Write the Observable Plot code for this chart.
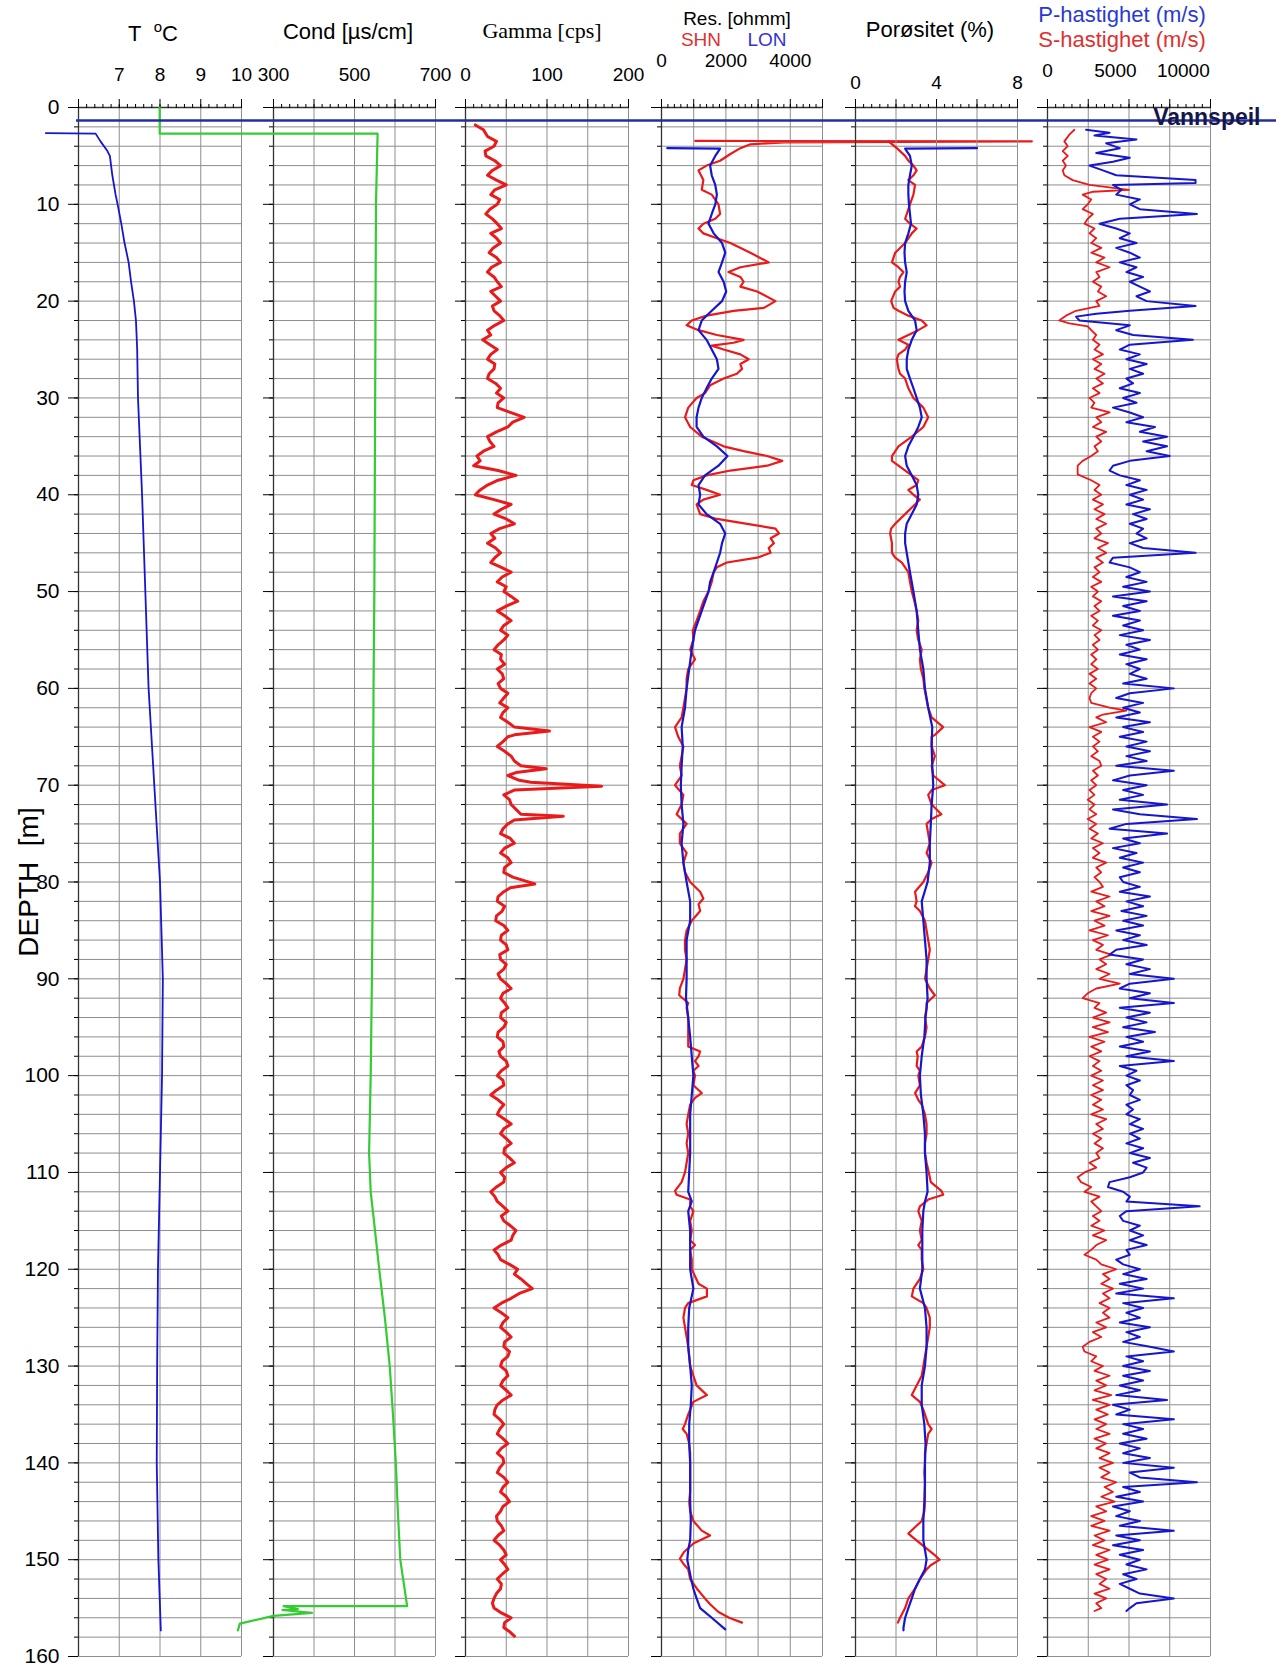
<!DOCTYPE html>
<html><head><meta charset="utf-8">
<script src="https://cdn.jsdelivr.net/npm/d3@7"></script>
<script src="https://cdn.jsdelivr.net/npm/@observablehq/plot@0.6"></script>
<style>
body{margin:0;background:#fff;}
#wrap{position:relative;width:1276px;height:1670px;overflow:hidden;font-family:"Liberation Sans",Arial,sans-serif;background:#fff;}
.t{position:absolute;white-space:nowrap;line-height:1;}
</style></head><body><div id="wrap"></div>
<script>
// ---------- tick labels / axes ----------
const depthTicks = [0,10,20,30,40,50,60,70,80,90,100,110,120,130,140,150,160];
const tempLabels = [7,8,9,10];
const condLabels = [300,500,700];
const gammaLabels = [0,100,200];
const resLabels = [0,2000,4000];
const porLabels = [0,4,8];
const velLabels = [0,5000,10000];
const waterLevel = 1.35;

// ---------- data: [depth m, value] ----------
const temperature = [[2.65,5.2],[2.7,6.42],[3.5,6.54],[4.5,6.71],[5,6.77],[7,6.83],[9,6.91],[10,6.96],[12,7.05],[14,7.13],[16,7.23],[18,7.29],[20,7.36],[22,7.41],[25,7.44],[30,7.46],[35,7.51],[40,7.56],[50,7.64],[60,7.72],[70,7.86],[80,8.0],[90,8.07],[100,8.05],[110,8.0],[120,7.95],[130,7.93],[140,7.92],[150,7.96],[157.3,8.02]];
const conductivity = [[0,19],[2.7,19],[2.7,557],[10,553],[20,552],[30,551],[40,550],[50,549],[60,547],[70,546],[80,545],[90,543],[100,540],[108,536],[112,540],[115,548],[120,561],[125,575],[130,587],[135,595],[140,602],[145,607],[150,613],[154.8,630],[154.8,325],[155.1,360],[155.2,322],[155.5,395],[155.8,300],[156.6,217],[157.3,212]];
const gamma = [[1.8,12],[2.3,22],[3,27],[3.5,38],[4,35],[4.5,24],[5,25],[5.5,36],[6,43],[6.5,33],[7,27],[7.5,38],[8,50],[8.5,36],[9,31],[9.5,42],[10,39],[10.5,30],[11,25],[11.5,33],[12,39],[12.5,44],[13,31],[13.5,38],[14,43],[14.5,34],[15,29],[15.5,38],[16,43],[16.5,32],[17,27],[17.5,35],[18,39],[18.5,44],[19,31],[19.5,37],[20,43],[20.5,33],[21,35],[21.5,42],[22,47],[22.5,36],[23,27],[23.5,31],[24,21],[24.5,30],[25,39],[25.5,31],[26,27],[26.5,36],[27,35],[27.5,29],[28,27],[28.5,37],[29,43],[29.5,38],[30,47],[30.5,40],[31,39],[31.5,55],[32,72],[32.5,58],[33,52],[33.5,38],[34,27],[34.5,30],[35,35],[35.5,22],[36,14],[36.5,18],[37,10],[37.5,40],[38,62],[38.5,40],[39,27],[39.5,18],[40,12],[40.5,35],[41,56],[41.5,44],[42,35],[42.5,50],[43,60],[43.5,42],[44,31],[44.5,36],[45,27],[45.5,37],[46,43],[46.5,36],[47,31],[47.5,44],[48,56],[48.5,45],[49,39],[49.5,50],[50,47],[50.5,56],[51,64],[51.5,50],[52,39],[52.5,48],[53,56],[53.5,47],[54,43],[54.5,52],[55,47],[55.5,40],[56,35],[56.5,44],[57,43],[57.5,48],[58,39],[58.5,45],[59,47],[59.5,40],[60,43],[60.5,52],[61,47],[61.5,42],[62,52],[62.5,46],[63,43],[63.5,52],[64,60],[64.4,103],[64.8,60],[65,52],[65.5,46],[66,39],[66.5,48],[67,56],[67.5,60],[68,68],[68.3,99],[68.7,62],[69,52],[69.5,66],[69.7,80],[70.1,167],[70.5,60],[71,47],[71.5,54],[72,56],[72.5,62],[73,68],[73.2,120],[73.6,60],[74,52],[74.5,46],[75,43],[75.5,55],[76,60],[76.5,48],[77,43],[77.5,52],[78,56],[78.5,48],[79,47],[79.5,58],[79.8,70],[80.2,85],[80.6,55],[81,47],[81.5,40],[82,39],[82.5,48],[83,45],[83.5,38],[84,37],[84.5,47],[85,52],[85.5,44],[86,43],[86.5,50],[87,52],[87.5,42],[88,43],[88.5,50],[89,47],[89.5,40],[90,43],[90.5,50],[91,56],[91.5,46],[92,43],[92.5,48],[93,52],[93.5,44],[94,43],[94.5,50],[95,47],[95.5,40],[96,39],[96.5,46],[97,47],[97.5,41],[98,43],[98.5,50],[99,52],[99.5,44],[100,39],[100.5,46],[101,47],[101.5,38],[102,31],[102.5,40],[103,47],[103.5,42],[104,39],[104.5,48],[105,56],[105.5,47],[106,43],[106.5,50],[107,56],[107.5,48],[108,47],[108.5,54],[109,60],[109.5,50],[110,43],[110.5,48],[111,47],[111.5,38],[112,31],[112.5,36],[113,39],[113.5,46],[114,52],[114.5,44],[115,47],[115.5,55],[116,62],[116.5,58],[117,56],[117.5,44],[118,35],[118.5,40],[119,43],[119.5,54],[120,64],[120.5,60],[121,68],[121.5,75],[122,82],[122.5,66],[123,56],[123.5,44],[124,35],[124.5,44],[125,52],[125.5,46],[126,43],[126.5,50],[127,56],[127.5,48],[128,47],[128.5,54],[129,52],[129.5,45],[130,43],[130.5,50],[131,52],[131.5,46],[132,43],[132.5,50],[133,56],[133.5,46],[134,39],[134.5,36],[135,35],[135.5,42],[136,47],[136.5,42],[137,39],[137.5,46],[138,52],[138.5,44],[139,39],[139.5,46],[140,47],[140.5,42],[141,39],[141.5,47],[142,52],[142.5,46],[143,43],[143.5,50],[144,54],[144.5,46],[145,43],[145.5,38],[146,39],[146.5,44],[147,47],[147.5,40],[148,35],[148.5,42],[149,47],[149.5,50],[150,43],[150.5,48],[151,52],[151.5,45],[152,39],[152.5,44],[153,43],[153.5,38],[154,35],[154.5,33],[155,35],[155.5,44],[156,56],[156.5,48],[157,47],[157.5,55],[157.9,60]];
const resSHN = [[3.45,1050],[3.5,11500],[3.6,3800],[3.8,2760],[4.2,2450],[4.8,2140],[5.5,1820],[6,1400],[6.5,1150],[7.5,1300],[8.5,1250],[9,1560],[10,1770],[11,1820],[11.5,1670],[12,1300],[12.5,1150],[13,1300],[13.5,1720],[14,2140],[15,2760],[16,3330],[16.5,2450],[17,2080],[17.5,2450],[18,2550],[18.5,2450],[19,2970],[20,3540],[20.7,3180],[21,2240],[21.5,1400],[22,940],[22.5,780],[23,1150],[23.5,1720],[24,2550],[24.3,2240],[24.6,1560],[25,1930],[25.5,2450],[26,2710],[26.5,2450],[27,2500],[27.5,2340],[28,1930],[28.7,1510],[29.5,1350],[30,1090],[31,830],[32,730],[33,890],[34,1250],[35,1930],[35.5,2550],[36,3280],[36.5,3750],[37,3280],[37.5,2140],[38,1400],[38.5,990],[39,940],[39.5,1400],[40,1820],[40.5,1300],[41,1090],[42,1200],[42.5,1720],[43,2660],[43.5,3540],[44,3650],[44.5,3390],[45,3490],[45.5,3330],[46,3390],[46.5,2970],[47,2030],[47.5,1720],[48,1620],[49,1560],[50,1460],[51,1300],[52,1200],[53,1090],[54,970],[55,990],[56,890],[57,1040],[58,830],[59,780],[60,780],[62,680],[63,625],[64,420],[65,520],[66,680],[67,625],[68,570],[69,625],[70,420],[71,680],[72,625],[73,470],[74,780],[75,570],[76,570],[77,780],[78,680],[79,730],[80,890],[81,1200],[81.7,1300],[82.3,1150],[83,1200],[84,940],[85,780],[86,730],[87,730],[88,780],[89,730],[90,680],[91,570],[91.7,550],[92.5,830],[93,780],[94,830],[95,830],[96,830],[97,830],[97.5,1200],[98,1150],[98.5,1040],[99,1150],[99.5,990],[100,1040],[101,990],[101.8,1250],[102.3,1040],[103,890],[104,830],[105,780],[106,830],[107,780],[108,830],[109,780],[110,730],[111,625],[111.9,420],[112.3,470],[112.8,890],[113.5,890],[114,990],[115,890],[116,940],[117,890],[117.5,1040],[118,890],[119,940],[120,940],[121.5,1150],[122,1410],[122.8,1410],[123.5,830],[124,730],[125,680],[126,730],[127,780],[128,830],[129,860],[130,890],[131,990],[132,1090],[133,1410],[133.7,990],[134.5,890],[135,830],[136,730],[136.5,660],[137,780],[138,860],[139,890],[140,890],[141,890],[142,890],[143,890],[144,860],[145,890],[146,990],[147,1250],[147.5,1510],[148.3,1000],[149.2,700],[149.9,570],[150.5,700],[151,830],[152,890],[153,1100],[154,1350],[154.6,1510],[155.4,1770],[156,2100],[156.5,2500]];
const resLON = [[4.2,180],[4.25,1820],[4.5,1770],[5,1670],[6,1510],[7,1560],[8,1670],[9,1720],[10,1670],[11,1560],[12,1460],[13,1620],[14,1880],[15,1980],[16,1880],[17,1770],[18,1930],[19,2010],[20,1880],[21,1560],[22,1250],[23,1150],[24,1400],[25,1560],[26,1720],[27,1770],[28,1560],[29,1400],[30,1250],[31,1150],[32,1090],[33,1090],[34,1300],[35,1720],[36,2050],[37,1770],[38,1350],[39,1150],[40,1200],[41,1150],[42,1400],[43,1820],[44,1980],[45,1880],[46,1820],[47,1720],[48,1620],[49,1510],[50,1460],[52,1250],[54,1040],[56,940],[58,860],[60,780],[62,730],[64,625],[66,660],[68,625],[70,600],[72,625],[74,680],[76,625],[78,680],[80,780],[82,890],[84,890],[86,780],[88,780],[90,780],[92,760],[94,830],[96,890],[98,940],[100,990],[102,940],[104,890],[106,890],[108,890],[110,860],[112,830],[113,940],[114,830],[116,890],[118,890],[120,890],[122,990],[124,860],[126,830],[128,830],[130,890],[132,940],[134,910],[136,860],[138,860],[140,890],[142,890],[144,890],[146,910],[148,890],[149,830],[150,800],[151,860],[152,920],[153,990],[154,1090],[155,1200],[156,1560],[157.2,1980]];
const porRed = [[3.5,1.63],[4.2,2.04],[5,2.45],[5.5,2.61],[6,2.86],[6.5,3.02],[7,2.86],[7.5,2.61],[8,2.94],[9,2.86],[10,2.69],[11,2.53],[11.5,2.45],[12,2.69],[12.5,3.02],[13,2.78],[14,2.45],[15,1.96],[16,1.8],[16.5,2.12],[17,2.37],[17.5,2.2],[18,2.12],[18.5,2.2],[19,1.96],[20,1.76],[20.7,1.88],[21,2.12],[21.5,2.61],[22,3.27],[22.5,3.51],[23,3.1],[23.5,2.61],[24,2.12],[24.5,2.61],[25,2.45],[25.5,2.12],[26,2.04],[27,2.12],[27.5,2.2],[28,2.45],[29,2.61],[30,2.86],[31,3.35],[32,3.59],[33,3.35],[34,2.78],[35,2.12],[36,1.8],[36.5,1.8],[37,2.12],[38,2.78],[38.5,3.1],[39,3.02],[39.5,2.61],[40,2.86],[40.5,3.18],[41,2.94],[42,2.45],[43,1.96],[43.5,1.76],[44,1.71],[45,1.8],[46,1.8],[46.5,1.96],[47,2.29],[48,2.61],[49,2.69],[50,2.78],[51,2.91],[52,3.02],[53,3.1],[54,3.02],[55,3.1],[56,3.27],[57,3.18],[58,3.23],[59,3.35],[60,3.4],[62,3.59],[63,3.76],[64,4.33],[64.8,3.92],[65,3.76],[66,3.76],[67,3.92],[68,3.76],[69,3.84],[70,4.41],[70.5,3.76],[71,3.59],[72,3.76],[73,4.24],[73.5,3.76],[74,3.51],[75,3.59],[76,3.67],[77,3.51],[78,3.76],[79,3.59],[80,3.35],[81,2.94],[82,3.02],[82.5,2.94],[83,3.18],[84,3.43],[85,3.51],[86,3.59],[87,3.67],[88,3.59],[89,3.51],[90,3.43],[91,3.67],[91.7,3.92],[92.5,3.51],[93,3.51],[94,3.43],[95,3.51],[96,3.43],[97,3.27],[97.5,3.02],[98,3.07],[99,3.02],[99.5,3.18],[100,3.1],[101,3.18],[101.8,2.94],[102.5,3.1],[103,3.27],[104,3.43],[105,3.51],[106,3.51],[107,3.43],[108,3.43],[109,3.51],[110,3.62],[111,3.72],[111.9,4.24],[112.3,4.33],[112.8,3.59],[113.5,3.18],[114,3.1],[115,3.27],[116,3.18],[117,3.27],[117.5,3.1],[118,3.27],[119,3.27],[120,3.35],[121,3.18],[122,2.86],[122.8,2.78],[123.5,3.35],[124,3.51],[125,3.67],[126,3.67],[127,3.59],[128,3.51],[129,3.43],[130,3.35],[131,3.27],[132,3.02],[133,2.78],[133.7,3.18],[134.5,3.35],[135,3.43],[136,3.59],[136.5,3.76],[137,3.59],[138,3.51],[139,3.43],[140,3.43],[141,3.4],[142,3.43],[143,3.43],[144,3.43],[145,3.4],[146,3.27],[147.3,2.61],[148.5,3.3],[149.5,3.9],[150,4.16],[150.6,3.7],[151,3.51],[152,3.18],[153,2.94],[154,2.61],[155,2.45],[156,2.2],[156.5,2.09]];
const porBlue = [[4.2,6.0],[4.25,2.45],[4.5,2.53],[5,2.69],[6,2.78],[7,2.69],[8,2.61],[9,2.61],[10,2.64],[11,2.69],[12,2.74],[13,2.61],[14,2.45],[15,2.42],[16,2.45],[17,2.53],[18,2.45],[19,2.42],[20,2.45],[21,2.61],[22,2.94],[23,3.02],[24,2.78],[25,2.61],[26,2.53],[27,2.53],[28,2.69],[29,2.86],[30,3.02],[31,3.18],[32,3.27],[33,3.1],[34,2.86],[35,2.61],[36,2.45],[37,2.53],[38,2.78],[39,3.02],[40,3.1],[41,3.02],[42,2.78],[43,2.53],[44,2.45],[45,2.45],[46,2.53],[47,2.61],[48,2.69],[50,2.86],[52,3.02],[54,3.1],[56,3.18],[58,3.35],[60,3.43],[62,3.59],[64,3.79],[66,3.76],[68,3.79],[70,3.84],[72,3.76],[74,3.72],[76,3.67],[78,3.67],[80,3.56],[82,3.27],[84,3.35],[86,3.43],[88,3.51],[90,3.51],[92,3.56],[94,3.46],[96,3.4],[98,3.27],[100,3.18],[102,3.23],[104,3.35],[106,3.43],[108,3.43],[110,3.51],[112,3.56],[113,3.43],[114,3.35],[116,3.3],[118,3.3],[120,3.3],[122,3.18],[124,3.43],[126,3.51],[128,3.51],[130,3.43],[132,3.27],[134,3.27],[136,3.4],[138,3.46],[140,3.43],[142,3.43],[144,3.4],[146,3.35],[148,3.35],[149,3.43],[150,3.51],[151,3.43],[152,3.18],[153,2.94],[154,2.78],[155,2.61],[156,2.45],[157,2.37],[157.3,2.37]];
const velS = [[2.3,1980],[2.8,1610],[3.5,1240],[4,1490],[4.5,1120],[5,1490],[5.5,1120],[6,1360],[6.5,1120],[7,1240],[7.5,1850],[8,3090],[8.5,6000],[8.7,3360],[9,2590],[9.5,3220],[10,2960],[10.5,2590],[11,3340],[11.5,2960],[12,2720],[12.5,3460],[13,3090],[13.5,3590],[14,3220],[14.5,3960],[15,3220],[15.5,4200],[16,3590],[16.5,4570],[17,3590],[17.5,3830],[18,3340],[18.5,3960],[19,3710],[19.5,4320],[20,3590],[20.5,3830],[21,2100],[21.5,1360],[22,860],[22.3,1610],[22.6,2960],[23,3220],[23.5,3590],[24,3340],[24.5,3830],[25,3460],[25.5,4080],[26,3340],[26.5,3960],[27,3460],[27.5,4200],[28,3590],[28.5,4080],[29,3340],[29.5,3830],[30,3090],[30.5,3460],[31,3220],[31.5,4570],[32,3590],[32.5,3960],[33,3340],[33.5,4320],[34,3590],[34.5,3960],[35,3460],[35.5,3710],[36,3220],[36.5,2590],[37,2220],[37.9,2220],[38.5,3220],[39,3830],[39.5,3460],[40,3960],[40.5,3340],[41,4080],[41.5,3460],[42,4200],[42.5,3590],[43,4320],[43.5,3590],[44,3960],[44.5,3460],[45,4450],[45.5,3710],[46,4320],[46.5,3590],[47,4080],[47.5,3460],[48,3830],[48.5,3340],[49,3960],[49.5,3220],[50,3710],[50.5,3340],[51,3960],[51.5,3460],[52,3830],[52.5,3220],[53,3710],[53.5,3340],[54,3960],[54.5,3460],[55,3830],[55.5,3340],[56,3710],[56.5,3220],[57,3600],[57.5,3220],[58,3710],[58.5,3090],[59,3590],[59.5,3090],[60,3590],[60.5,3220],[61,3090],[61.5,3220],[62,4570],[62.3,5810],[62.7,4080],[63,3590],[63.5,4320],[64,3090],[64.5,3960],[65,3340],[65.5,3830],[66,3340],[66.5,3710],[67,3220],[67.5,3830],[68,3960],[68.5,3340],[69,3710],[69.5,3220],[70,3590],[70.5,3090],[71,3460],[71.5,2960],[72,3460],[72.5,3090],[73,3590],[73.5,2960],[74,3590],[74.5,3090],[75,3710],[75.5,3220],[76,4080],[76.5,3340],[77,3830],[77.5,3340],[78,4320],[78.5,3590],[79,3960],[79.5,3460],[80,3830],[80.5,4080],[81,3220],[81.5,4570],[82,3590],[82.5,4200],[83,3220],[83.5,4570],[84,3460],[84.5,4200],[85,3090],[85.5,4450],[86,3340],[86.5,4080],[87,3590],[87.5,4690],[88,3830],[88.5,4320],[89,3590],[89.5,4570],[90,3830],[90.5,5320],[91,3590],[91.5,2960],[92,2590],[92.5,3830],[93,3460],[93.5,4320],[94,3340],[94.5,4570],[95,3340],[95.5,4450],[96,3090],[96.5,4200],[97,3220],[97.5,3960],[98,3090],[98.5,3830],[99,3340],[99.5,3960],[100,3220],[100.5,4080],[101,3340],[101.5,4080],[102,3220],[102.5,3960],[103,3340],[103.5,4080],[104,3220],[104.5,4320],[105,3590],[105.5,4080],[106,3340],[106.5,3960],[107,3460],[107.5,4080],[108,3590],[108.5,3830],[109,3090],[109.5,3590],[110,2720],[110.5,2220],[111,2470],[111.5,3220],[112,2720],[112.5,3830],[113,3220],[113.5,3590],[114,3960],[114.5,3340],[115,3830],[115.5,3220],[116,4200],[116.5,3340],[117,4320],[117.5,3590],[118,3220],[118.5,2720],[119,3590],[119.5,3960],[120,5060],[120.5,4080],[121,4570],[121.5,3960],[122,4820],[122.5,4080],[123,4570],[123.5,3830],[124,4570],[124.5,4080],[125,4570],[125.5,3590],[126,4320],[126.5,3340],[127,3960],[127.5,3090],[128,2590],[128.5,2720],[129,3590],[129.5,3220],[130,4080],[130.5,3460],[131,4570],[131.5,3590],[132,4320],[132.5,3460],[133,4690],[133.5,3340],[134,4570],[134.5,3590],[135,4450],[135.5,3460],[136,4320],[136.5,3590],[137,4570],[137.5,3460],[138,4320],[138.5,3590],[139,4570],[139.5,3830],[140,4820],[140.5,3830],[141,4570],[141.5,3960],[142,5060],[142.5,4200],[143,4820],[143.5,3960],[144,4940],[144.5,3590],[145,4320],[145.5,3220],[146,4200],[146.5,3220],[147,4570],[147.5,3460],[148,4200],[148.5,3340],[149,4570],[149.5,3590],[150,4450],[150.5,3460],[151,4570],[151.5,3590],[152,4320],[152.5,3830],[153,4570],[153.5,3460],[154,4320],[154.5,3590],[155,3960],[155.3,3460]];
const velP = [[2.3,2840],[2.6,4570],[2.9,3460],[3.3,6550],[3.7,4320],[4.2,5320],[4.7,3590],[5.2,6060],[5.6,4820],[6,3090],[6.5,4080],[7,5060],[7.5,10900],[7.8,10900],[8,4820],[8.5,5440],[9,5060],[9.5,6800],[10,6060],[10.5,6800],[11,11000],[11.5,5320],[12,3830],[12.5,5060],[13,6060],[13.5,5320],[14,6550],[14.5,5060],[15,6060],[15.5,6800],[16,5320],[16.5,6550],[17,5810],[17.5,7040],[18,6060],[18.5,6800],[19,7540],[19.5,6550],[20,7300],[20.5,10900],[21,6060],[21.3,3590],[21.6,2100],[22,2350],[22.5,6060],[23,5060],[23.5,6300],[24,10700],[24.5,6060],[25,5320],[25.5,6800],[26,5810],[26.5,7300],[27,6060],[27.5,7040],[28,5810],[28.5,6300],[29,5320],[29.5,6800],[30,5570],[30.5,6550],[31,4820],[31.5,6060],[32,7040],[32.5,5810],[33,7910],[33.5,6800],[34,8800],[34.5,7040],[35,8800],[35.5,7300],[36,9000],[36.5,6060],[37,4820],[37.5,4570],[38,5320],[38.5,6800],[39,5810],[39.5,7300],[40,6060],[40.5,7040],[41,5810],[41.5,7540],[42,6300],[42.5,7300],[43,6060],[43.5,7040],[44,6550],[44.5,7300],[45,6060],[45.5,7040],[46,10900],[46.5,4820],[47,4570],[47.5,6060],[48,6800],[48.5,5810],[49,7300],[49.5,5570],[50,7540],[50.5,4820],[51,7300],[51.5,5570],[52,6800],[52.5,4820],[53,6800],[53.5,5570],[54,7040],[54.5,5320],[55,7540],[55.5,5810],[56,6800],[56.5,5320],[57,7300],[57.5,5810],[58,6800],[58.5,6060],[59,7300],[59.5,5570],[60,9300],[60.5,6060],[61,5060],[61.5,7040],[62,5570],[62.5,6800],[63,5060],[63.5,7540],[64,5570],[64.5,7040],[65,5320],[65.5,7300],[66,5810],[66.5,7540],[67,5810],[67.5,7300],[68,5060],[68.5,9300],[69,6060],[69.5,4820],[70,7300],[70.5,5570],[71,7040],[71.5,5320],[72,8800],[72.5,4820],[73,6800],[73.5,11000],[74,5810],[74.5,4570],[75,8800],[75.5,5570],[76,6800],[76.5,4820],[77,6550],[77.5,5320],[78,7040],[78.5,5570],[79,6800],[79.5,5320],[80,5570],[80.5,6800],[81,5320],[81.5,7540],[82,5810],[82.5,7040],[83,5440],[83.5,7300],[84,5570],[84.5,7040],[85,5060],[85.5,6800],[86,5570],[86.5,7300],[87,5060],[87.5,4570],[88,7040],[88.5,5810],[89,7540],[89.5,6060],[90,9300],[90.5,6060],[91,5320],[91.5,7540],[92,6060],[92.5,9300],[93,5320],[93.5,7540],[94,5810],[94.5,7300],[95,5570],[95.5,7910],[96,5810],[96.5,7040],[97,5320],[97.5,7540],[98,5810],[98.5,9300],[99,5320],[99.5,6550],[100,5810],[100.5,6800],[101,5810],[101.5,6300],[102,6060],[102.5,6800],[103,5810],[103.5,6300],[104,5810],[104.5,6800],[105,6060],[105.5,7040],[106,6060],[106.5,6800],[107,5810],[107.5,7040],[108,6060],[108.5,7540],[109,6300],[109.5,7300],[110,7040],[110.5,6060],[111,4570],[111.5,4450],[112,5570],[112.5,6060],[113,5810],[113.5,11200],[114,5810],[114.5,5320],[115,5570],[115.5,6800],[116,6060],[116.5,7040],[117,6060],[117.5,7300],[118,5810],[118.5,6060],[119,5060],[119.5,5570],[120,6800],[120.5,5570],[121,7300],[121.5,5320],[122,7040],[122.5,5060],[123,9300],[123.5,5570],[124,7040],[124.5,5810],[125,6800],[125.5,5320],[126,7540],[126.5,5810],[127,6800],[127.5,5570],[128,7540],[128.5,9300],[129,5810],[129.5,7040],[130,5570],[130.5,7540],[131,5570],[131.5,7040],[132,5320],[132.5,6800],[133,5060],[133.5,8800],[134,4820],[134.5,6060],[135,5060],[135.5,9300],[136,5570],[136.5,7040],[137,5570],[137.5,7300],[138,5320],[138.5,6800],[139,5570],[139.5,7540],[140,5570],[140.5,9300],[141,6060],[141.5,6800],[142,11000],[142.5,5570],[143,6800],[143.5,5060],[144,7040],[144.5,4820],[145,6060],[145.5,5060],[146,6800],[146.5,5320],[147,9300],[147.5,5060],[148,6800],[148.5,4820],[149,7040],[149.5,5320],[150,6800],[150.5,5810],[151,7300],[151.5,5570],[152,6550],[152.5,5320],[153,6060],[153.5,6800],[154,9300],[154.5,6550],[155,6060],[155.3,5810]];

// ---------- colours ----------
const BLUE = "#1616cf", RED = "#ea1a1a", GREEN = "#33cc33", GRID = "#8e8e8e", FRAME = "#333";

// ---------- layout ----------
const H = 1670, MT = 107, MB = 14;
const wrap = document.getElementById("wrap");
const gridDepths = d3.range(2, 161, 2);
const baseStyle = {background: "transparent", overflow: "visible", fontFamily: "Liberation Sans, Arial, sans-serif", color: "#000"};

function panel({left, right, domain, majors, minors, labels, labelPad, series}) {
  const ML = 14, MR = 6;
  const svg = Plot.plot({
    width: right - left + ML + MR, height: H,
    marginLeft: ML, marginRight: MR, marginTop: MT, marginBottom: MB,
    x: {domain}, y: {domain: [0, 160], reverse: true},
    style: baseStyle,
    marks: [
      Plot.gridY({ticks: gridDepths, stroke: GRID, strokeOpacity: 1}),
      Plot.gridX({ticks: majors, stroke: GRID, strokeOpacity: 1}),
      Plot.ruleX([domain[0]], {stroke: FRAME, strokeWidth: 1.3}),
      Plot.ruleY([0], {stroke: FRAME, strokeWidth: 1.3}),
      Plot.axisY({ticks: gridDepths, anchor: "left", tickSize: 4, tickFormat: () => "", label: null}),
      Plot.axisY({ticks: depthTicks, anchor: "left", tickSize: 10, tickFormat: () => "", label: null}),
      Plot.axisX({ticks: minors, anchor: "top", tickSize: 4, tickFormat: () => "", label: null}),
      Plot.axisX({ticks: majors, anchor: "top", tickSize: 9, tickFormat: () => "", label: null}),
      Plot.axisX({ticks: labels, anchor: "top", tickSize: 0, tickPadding: labelPad, fontSize: 19, tickFormat: d => String(d), label: null}),
      ...series.map(s => Plot.line(s.data, {x: d => d[1], y: d => d[0], stroke: s.color, strokeWidth: s.width, strokeLinejoin: "round"}))
    ]
  });
  svg.style.position = "absolute";
  svg.style.left = (left - ML) + "px";
  svg.style.top = "0px";
  wrap.appendChild(svg);
}

panel({left: 78, right: 241, domain: [6, 10], majors: [6,7,8,9,10], minors: d3.range(6, 10.001, 0.2), labels: tempLabels, labelPad: 27,
  series: [{data: temperature, color: BLUE, width: 1.8}]});
panel({left: 273, right: 435, domain: [300, 700], majors: [300,400,500,600,700], minors: d3.range(300, 701, 20), labels: condLabels, labelPad: 27,
  series: [{data: conductivity, color: GREEN, width: 2.2}]});
panel({left: 465, right: 628, domain: [0, 200], majors: [0,50,100,150,200], minors: d3.range(0, 201, 10), labels: gammaLabels, labelPad: 27,
  series: [{data: gamma, color: RED, width: 3}]});
panel({left: 661, right: 822, domain: [0, 5000], majors: [0,1000,2000,3000,4000,5000], minors: d3.range(0, 5001, 200), labels: resLabels, labelPad: 41,
  series: [{data: resSHN, color: RED, width: 2.2}, {data: resLON, color: BLUE, width: 2.2}]});
panel({left: 855, right: 1017, domain: [0, 8], majors: [0,2,4,6,8], minors: d3.range(0, 8.001, 0.4), labels: porLabels, labelPad: 19,
  series: [{data: porRed, color: RED, width: 2.2}, {data: porBlue, color: BLUE, width: 2.2}]});
panel({left: 1047, right: 1210, domain: [0, 12000], majors: [0,3000,6000,9000,12000], minors: d3.range(0, 12001, 600), labels: velLabels, labelPad: 31,
  series: [{data: velS, color: RED, width: 1.8}, {data: velP, color: BLUE, width: 2}]});

// overlay: depth axis, water table
const overlay = Plot.plot({
  width: 1276, height: H, marginLeft: 76, marginRight: 0, marginTop: MT, marginBottom: MB,
  y: {domain: [0, 160], reverse: true},
  style: baseStyle,
  marks: [
    Plot.axisY({ticks: depthTicks, anchor: "left", tickSize: 0, tickPadding: 17, fontSize: 21, tickFormat: d => String(d), label: null}),
    Plot.ruleY([waterLevel], {stroke: "#22309a", strokeWidth: 2.6}),
    Plot.text([{label: "Vannspeil", depth: waterLevel}], {y: "depth", text: "label", frameAnchor: "right", textAnchor: "end", lineAnchor: "bottom", dx: -16, dy: 4, fontSize: 23, fontWeight: "bold", fill: "#16164a"}),
    Plot.text([{label: "DEPTH \u00a0[m]", depth: 80}], {y: "depth", text: "label", frameAnchor: "left", textAnchor: "middle", lineAnchor: "middle", dx: -47, rotate: -90, fontSize: 28})
  ]
});
overlay.style.position = "absolute"; overlay.style.left = "0px"; overlay.style.top = "0px";
wrap.appendChild(overlay);

// ---------- header titles ----------
function title(html, cx, baseline, size, color, family) {
  const d = document.createElement("div");
  d.className = "t";
  d.innerHTML = html;
  d.style.fontSize = size + "px";
  d.style.color = color || "#000";
  if (family) d.style.fontFamily = family;
  d.style.left = cx + "px";
  d.style.top = (baseline - 0.846 * size) + "px";
  d.style.transform = "translateX(-50%)";
  wrap.appendChild(d);
}
title('T&nbsp;&nbsp;<span style="font-size:15px;position:relative;top:-9px">o</span>C', 153, 42, 22);
title("Cond [µs/cm]", 348, 40, 22);
title("Gamma [cps]", 542, 39, 22, "#000", '"Liberation Serif", "Times New Roman", serif');
title("Res. [ohmm]", 737, 25, 19);
title("SHN", 701, 46, 19, "#e03030");
title("LON", 767, 46, 19, "#3434d0");
title("Porøsitet (%)", 930, 38, 22);
title("P-hastighet (m/s)", 1122, 23, 22, "#2a3ad0");
title("S-hastighet (m/s)", 1122, 48, 22, "#e03030");
</script></body></html>
